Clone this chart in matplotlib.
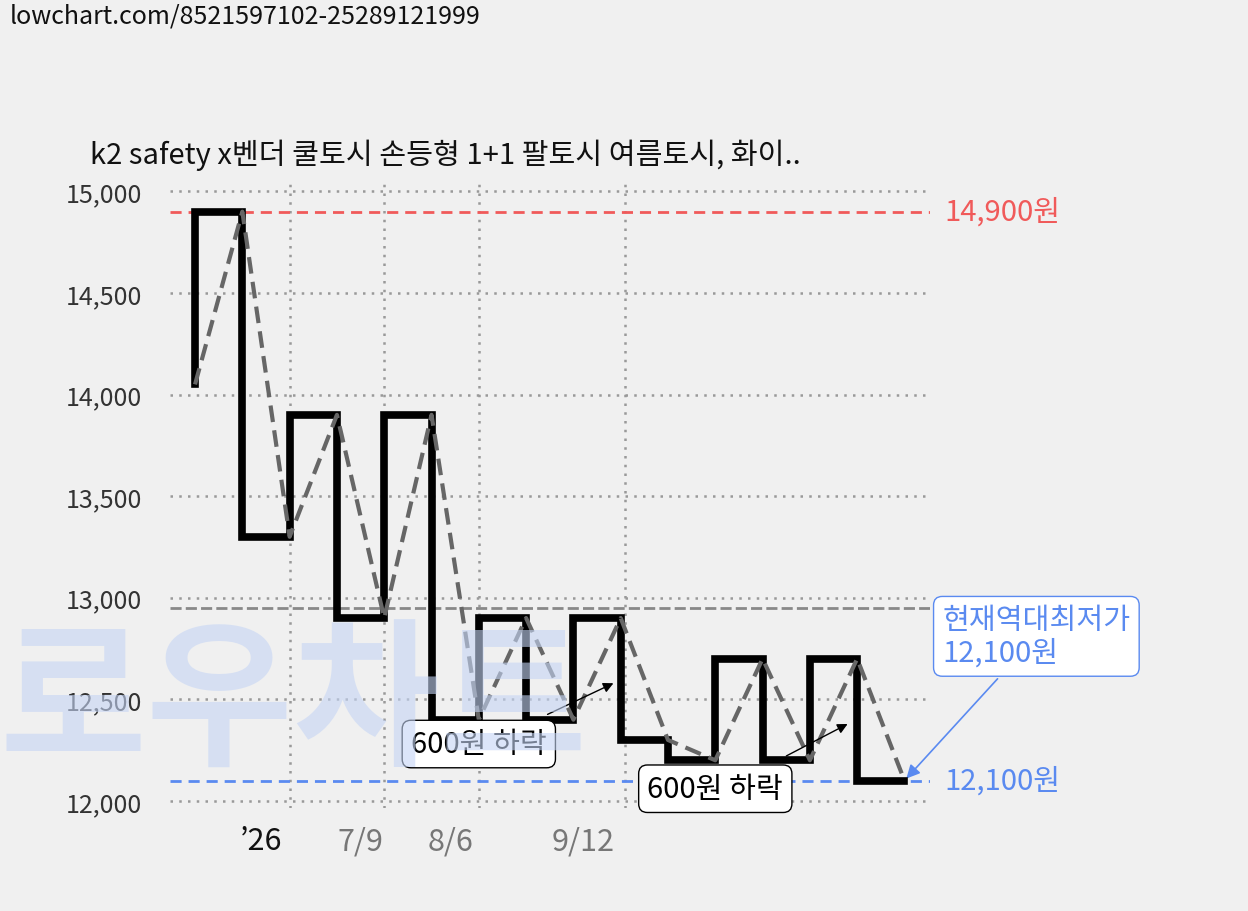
import matplotlib
matplotlib.use("Agg")
import matplotlib.pyplot as plt

plt.rcParams['font.family'] = ['Noto Sans CJK KR', 'DejaVu Sans']

prices = [14050, 14900, 13300, 13900, 12900, 13900, 12400, 12900, 12400, 12900,
          12300, 12200, 12700, 12200, 12700, 12100]
idx = list(range(len(prices)))
max_price = 14900
min_price = 12100
avg_price = 12950
vlines = [2, 4, 6, 9.1]
date_labels = ["’26", "7/9", "8/6", "9/12"]
date_pos = [1.4, 3.5, 5.4, 8.2]
date_colors = ["#111111", "#777777", "#777777", "#777777"]
yticks = [12000, 12500, 13000, 13500, 14000, 14500, 15000]

fig = plt.figure(figsize=(12.48, 9.12), dpi=100, facecolor="#f0f0f0")
ax = fig.add_axes([0.1362, 0.1129, 0.609, 0.684])
ax.set_facecolor("#f0f0f0")
ax.set_xlim(-0.53, 15.54)
ax.set_ylim(11965, 15035)
for s in ax.spines.values():
    s.set_visible(False)

for y in yticks:
    ax.axhline(y, color="#999999", ls=(0, (1, 2.5)), lw=1.8, zorder=1)
for x in vlines:
    ax.axvline(x, color="#999999", ls=(0, (1, 2.5)), lw=1.8, zorder=1)

ax.axhline(max_price, color="#f05a5a", ls=(0, (4, 2.5)), lw=2, zorder=2)
ax.axhline(min_price, color="#5a8af0", ls=(0, (4, 2.5)), lw=2, zorder=2)
ax.axhline(avg_price, color="#888888", ls=(0, (4, 1.5)), lw=2, zorder=2)

fig.text(0.0, 0.225, "로우차트", fontsize=115, color="#c5d5f5",
         alpha=0.6, fontweight="bold", zorder=0, ha="left", va="center")

ax.step(idx, prices, where="pre", color="black", lw=5.5, zorder=4, solid_joinstyle="miter")
ax.plot(idx, prices, color="#666666", lw=3, ls=(0, (4, 2)), zorder=5)

ax.set_yticks(yticks)
ax.set_yticklabels([f"{v:,}" for v in yticks], fontsize=18, color="#333333")
ax.tick_params(axis="y", length=0, pad=20)
ax.set_xticks([])
for lab, p, c in zip(date_labels, date_pos, date_colors):
    ax.text(p, 11880, lab, ha="center", va="top", fontsize=22, color=c)

ax.text(15.85, max_price, f"{max_price:,}원", color="#f05a5a", fontsize=21, va="center")
ax.text(15.85, min_price, f"{min_price:,}원", color="#5a8af0", fontsize=21, va="center")

ax.annotate("현재역대최저가\n12,100원", xy=(15, min_price), xytext=(15.8, 12810),
            fontsize=21, color="#5a8af0", va="center", ha="left", annotation_clip=False,
            linespacing=1.1,
            bbox=dict(boxstyle="round,pad=0.3", fc="white", ec="#5a8af0", lw=1),
            arrowprops=dict(arrowstyle="-|>", color="#5a8af0", lw=1.2, mutation_scale=20))

ax.annotate("", xy=(8.9, 12585), xytext=(7.4, 12420),
            arrowprops=dict(arrowstyle="-|>", color="black", lw=1, mutation_scale=15), zorder=6)
ax.text(6.0, 12280, "600원 하락", fontsize=21, ha="center", va="center", zorder=7,
        bbox=dict(boxstyle="round,pad=0.3", fc="white", ec="black", lw=1))
ax.annotate("", xy=(13.85, 12385), xytext=(12.45, 12215),
            arrowprops=dict(arrowstyle="-|>", color="black", lw=1, mutation_scale=15), zorder=6)
ax.text(11.0, 12060, "600원 하락", fontsize=21, ha="center", va="center", zorder=7,
        bbox=dict(boxstyle="round,pad=0.3", fc="white", ec="black", lw=1))

fig.text(0.072, 0.83, "k2 safety x벤더 쿨토시 손등형 1+1 팔토시 여름토시, 화이..",
         fontsize=21, color="#111111", va="center")
fig.text(0.008, 0.982, "lowchart.com/8521597102-25289121999", fontsize=18,
         color="#111111", va="center")

fig.savefig("out.png", dpi=100, facecolor="#f0f0f0")
